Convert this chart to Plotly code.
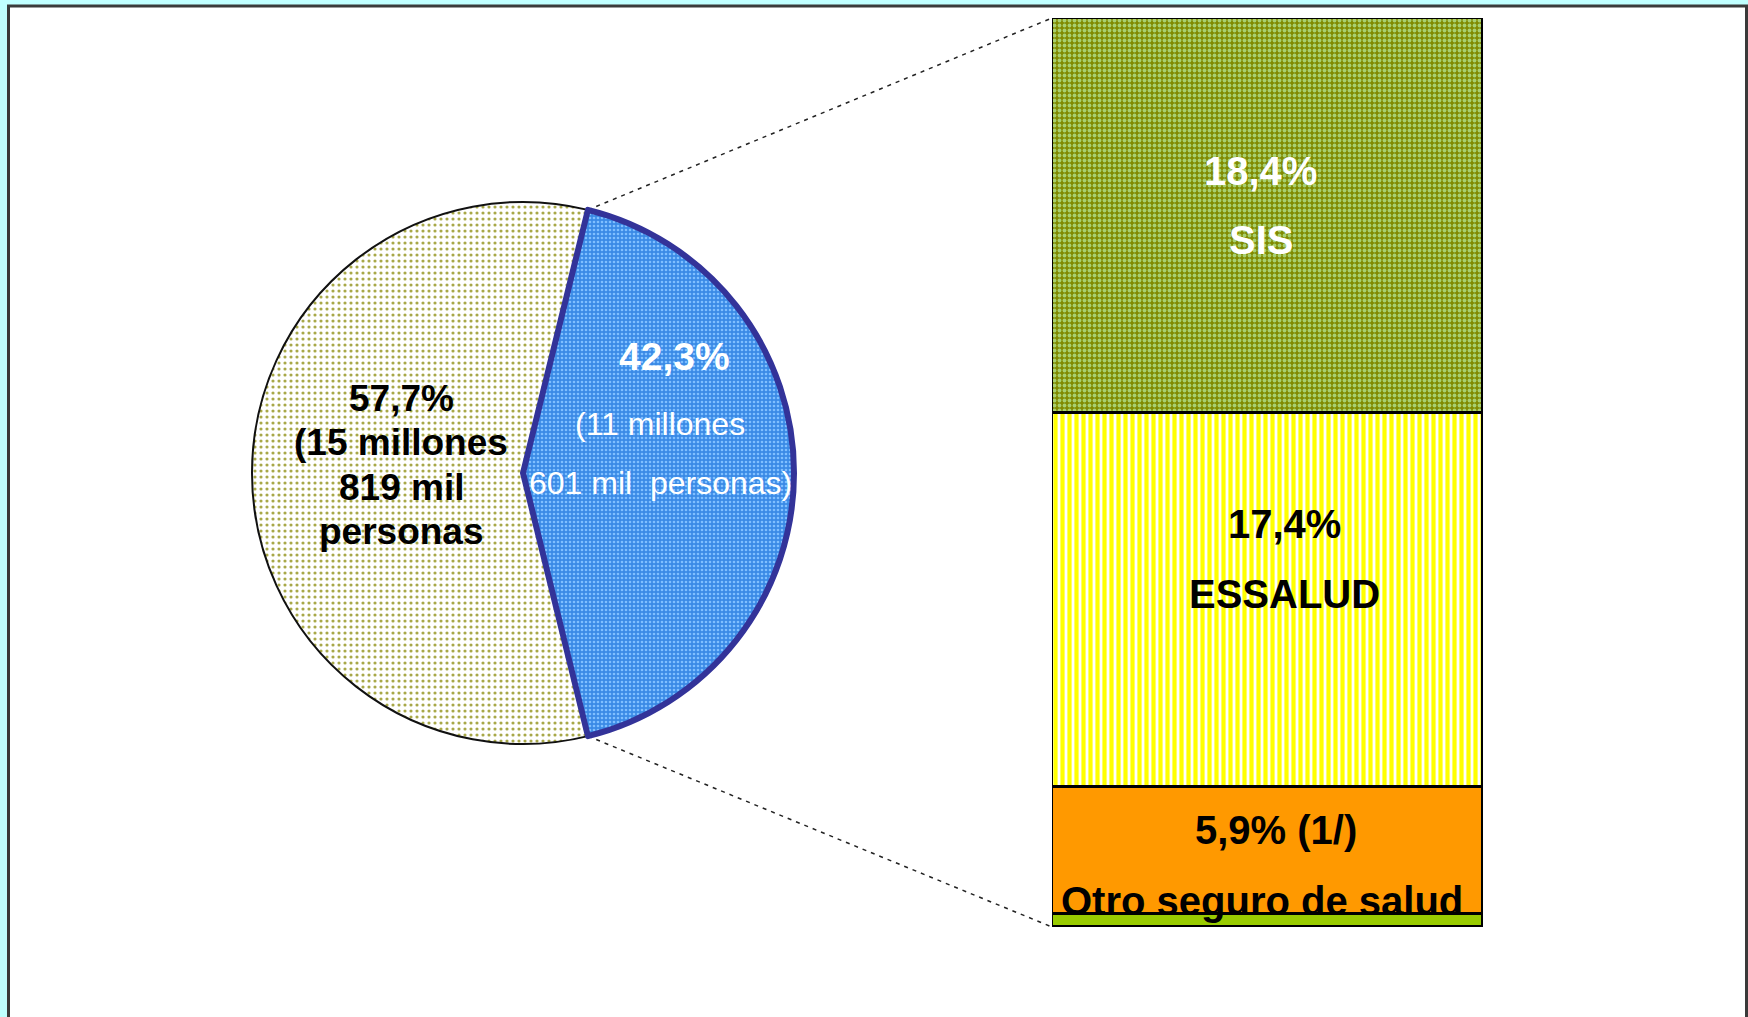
import math
import plotly.graph_objects as go

# ---------------- data ----------------
pie_labels = ["Sin seguro de salud", "Con seguro de salud"]
pie_values = [57.7, 42.3]
pie_text_lines = [
    ["57,7%", "(15 millones", "819 mil", "personas"],
    ["42,3%", "(11 millones", "601 mil  personas)"],
]

bar_labels = ["", "Otro seguro de salud", "ESSALUD", "SIS"]      # bottom -> top
bar_values = [0.6, 5.9, 17.4, 18.4]
bar_value_text = ["", "5,9% (1/)", "17,4%", "18,4%"]

# ---------------- layout helpers ----------------
W, H = 1748, 1017
FONT = "Liberation Sans, Arial, sans-serif"


def px(x, y):
    return x / W, 1 - y / H


# pie placement (pixels)
cx, cy, r = 523, 473, 271
pie_dom_x = [(cx - r) / W, (cx + r) / W]
pie_dom_y = [1 - (cy + r) / H, 1 - (cy - r) / H]

# bar placement (pixels)
bx0, bx1, by_top, by_bot = 1052, 1483, 18, 927
bar_dom_x = [bx0 / W, bx1 / W]
bar_dom_y = [1 - by_bot / H, 1 - by_top / H]

total_bar = sum(bar_values)
blue_share = pie_values[1]
blue_start = 90 - blue_share * 3.6 / 2           # clockwise from 12 o'clock
rotation = blue_start + blue_share * 3.6          # beige slice starts where blue ends

fig = go.Figure()

fig.add_trace(go.Pie(
    labels=pie_labels, values=pie_values, sort=False, direction="clockwise",
    rotation=rotation, textinfo="none", hoverinfo="skip", showlegend=False,
    domain=dict(x=pie_dom_x, y=pie_dom_y),
    marker=dict(
        colors=["#ffffff", "#3d8fea"],
        line=dict(color=["#111111", "#333399"], width=[2, 6]),
        pattern=dict(shape=[".", "."], fillmode="replace",
                     bgcolor=["#ffffff", "#3a8ae6"],
                     fgcolor=["#a8a848", "#7fbfff"],
                     size=[6, 4], solidity=[0.22, 0.35]),
    ),
))

bar_styles = [
    dict(color="#99cc00", pattern=dict(shape="")),
    dict(color="#ff9900", pattern=dict(shape="")),
    dict(color="#ffff00", pattern=dict(shape="|", fillmode="replace", bgcolor="#ffffff",
                                       fgcolor="#ffff00", size=7, solidity=0.6)),
    dict(color="#808000", pattern=dict(shape=".", fillmode="replace", bgcolor="#808a00",
                                       fgcolor="#a8d070", size=5, solidity=0.45)),
]
for lab, val, st in zip(bar_labels, bar_values, bar_styles):
    fig.add_trace(go.Bar(
        x=["Asegurados"], y=[val], name=lab, showlegend=False, hoverinfo="skip",
        width=1, xaxis="x", yaxis="y",
        marker=dict(color=st["color"], pattern=st["pattern"],
                    line=dict(color="#000000", width=3)),
    ))

# ---------------- shapes ----------------
shapes = []
# white frame on cyan background
shapes.append(dict(type="rect", xref="paper", yref="paper",
                   x0=8.5 / W, x1=1746.5 / W, y0=-0.05, y1=1 - 6 / H,
                   fillcolor="#ffffff", line=dict(color="#3a3a3a", width=3), layer="below"))

# connectors from blue slice edges to bar corners
a1 = math.radians(blue_start)
a2 = math.radians(blue_start + blue_share * 3.6)
p_top = px(cx + r * math.sin(a1), cy - r * math.cos(a1))
p_bot = px(cx + r * math.sin(a2), cy - r * math.cos(a2))
for p, ybar in [(p_top, bar_dom_y[1]), (p_bot, bar_dom_y[0])]:
    shapes.append(dict(type="line", xref="paper", yref="paper",
                       x0=p[0], y0=p[1], x1=bar_dom_x[0], y1=ybar,
                       line=dict(color="#222222", width=1.5, dash="4px,5px"), layer="below"))

# ---------------- annotations ----------------
ann = []


def add_txt(x, y, text, size, color, bold=True):
    xp, yp = px(x, y)
    ann.append(dict(x=xp, y=yp, xref="paper", yref="paper", text=text, showarrow=False,
                    xanchor="center", yanchor="middle",
                    font=dict(family=FONT, size=size, color=color,
                              weight="bold" if bold else "normal")))


# pie labels (beige slice, black)
for i, t in enumerate(pie_text_lines[0]):
    add_txt(401, 398 + i * 44.5, t, 37, "#000000", True)
# pie labels (blue slice, white)
blue_pos = [(674, 357, 39, True), (660, 424, 32, False), (660, 483, 32, False)]
for t, (x, y, s, b) in zip(pie_text_lines[1], blue_pos):
    add_txt(x, y, t, s, "#ffffff", b)

# bar labels: anchored at segment centres, shifted in pixels
bar_text_color = ["#000000", "#000000", "#000000", "#ffffff"]
bar_shifts = [None, (21, -50), (76, 6), (45, -24)]    # (value line, name line) yshift
bar_xshifts = [None, (8, -6), (17, 17), (-7, -7)]     # (value line, name line) xshift
cum = 0
for lab, val, vt, col, sh, xs in zip(bar_labels, bar_values, bar_value_text,
                                     bar_text_color, bar_shifts, bar_xshifts):
    mid = cum + val / 2
    cum += val
    if sh is None:
        continue
    for text, ys, xsh in [(vt, sh[0], xs[0]), (lab, sh[1], xs[1])]:
        ann.append(dict(x=0, y=mid, xref="x", yref="y", text=text, showarrow=False,
                        yshift=ys, xshift=xsh, xanchor="center", yanchor="middle",
                        font=dict(family=FONT, size=40, color=col, weight="bold")))

fig.update_layout(
    width=W, height=H, margin=dict(l=0, r=0, t=0, b=0),
    paper_bgcolor="#c0ffff", plot_bgcolor="rgba(0,0,0,0)",
    barmode="stack", bargap=0,
    xaxis=dict(domain=bar_dom_x, range=[-0.5, 0.5], visible=False, type="category"),
    yaxis=dict(domain=bar_dom_y, range=[0, total_bar], visible=False),
    shapes=shapes, annotations=ann,
)

fig.write_html(
    "out.html",
    config={"displayModeBar": False},
    post_script="document.body.style.margin='0px';"
                "document.body.style.background='#c0ffff';"
                "document.body.style.overflow='hidden';",
)
